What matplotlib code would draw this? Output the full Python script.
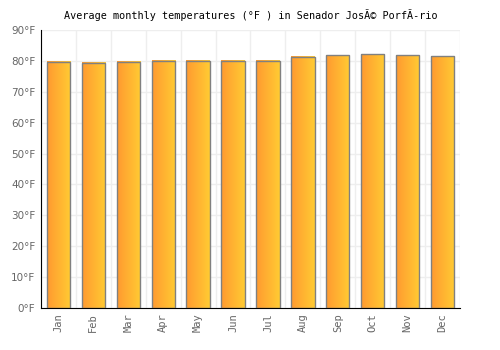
import matplotlib
matplotlib.use("Agg")
import matplotlib.pyplot as plt
import numpy as np
from matplotlib.colors import LinearSegmentedColormap

# datos
meses = ["Jan", "Feb", "Mar", "Apr", "May", "Jun", "Jul", "Aug", "Sep", "Oct", "Nov", "Dec"]
temps = [79.8, 79.5, 79.8, 80.1, 80.1, 80.1, 80.1, 81.3, 81.9, 82.2, 81.9, 81.6]
yticks = [0, 10, 20, 30, 40, 50, 60, 70, 80, 90]
titulo = "Average monthly temperatures (°F ) in Senador JosÃ© PorfÃ-rio"

fig = plt.figure(figsize=(5, 3.5), dpi=100)
ax = fig.add_axes([0.082, 0.12, 0.838, 0.794])

x = np.arange(len(meses))
barras = ax.bar(x, temps, width=0.67, color="none", edgecolor="#808080", linewidth=1.0, zorder=3)

# degradado naranja en cada barra
cmap = LinearSegmentedColormap.from_list("nar", ["#FF9A30", "#FFCB33"])
grad = np.linspace(0, 1, 100).reshape(1, -1)
for b in barras:
    x0, w, h = b.get_x(), b.get_width(), b.get_height()
    ax.imshow(grad, cmap=cmap, aspect="auto", extent=[x0, x0 + w, 0, h], zorder=2)

ax.set_xlim(-0.5, len(meses) - 0.5)
ax.set_ylim(0, 90)
ax.set_yticks(yticks)
ax.set_yticklabels([f"{v}°F" for v in yticks], fontsize=7.5, color="#666666")
ax.set_xticks(x)
ax.set_xticklabels(meses, rotation=90, fontsize=7.5, color="#666666", family="DejaVu Sans Mono")

# rejilla
ax.set_xticks(np.arange(-0.5, len(meses), 1), minor=True)
ax.grid(which="minor", axis="x", color="#EEEEEE", linewidth=1, zorder=0)
ax.grid(which="major", axis="y", color="#EEEEEE", linewidth=1, zorder=0)
ax.tick_params(which="both", length=0, pad=4)

for s in ["top", "right"]:
    ax.spines[s].set_visible(False)
ax.spines["left"].set_color("black")
ax.spines["bottom"].set_color("black")

ax.set_title(titulo, fontsize=7.3, family="DejaVu Sans Mono", pad=8)

fig.savefig("out.png", dpi=100)
